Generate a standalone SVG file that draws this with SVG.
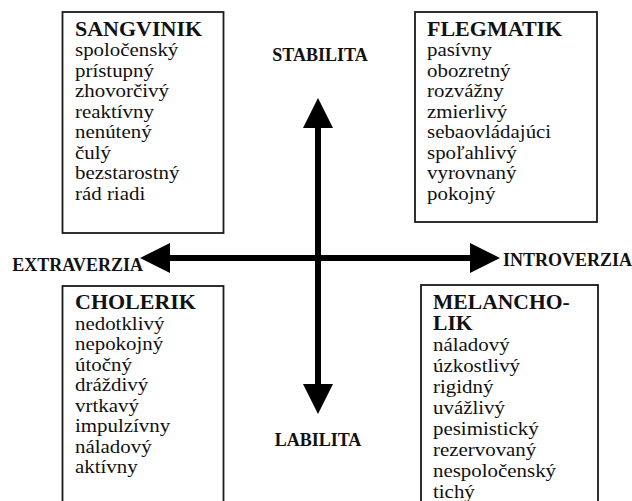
<svg xmlns="http://www.w3.org/2000/svg" width="632" height="501" viewBox="0 0 632 501">
<style>
.box{fill:#fff;stroke:#1a1a1a;stroke-width:1.8}
text{font-family:'Liberation Serif', 'Times New Roman', Times, serif}
.t{font-size:19px;fill:#111}
.b{font-weight:400}
.h{font-weight:bold;font-size:20px}
.ax{font-size:18px;font-weight:bold;fill:#111}
.line{stroke:#000;stroke-width:6}
</style>
<defs>
<marker id="ah" viewBox="0 0 10 10" refX="2" refY="5" markerWidth="5.2" markerHeight="5" orient="auto" markerUnits="strokeWidth">
<path d="M0,0 L10,5 L0,10 z" fill="#000"/>
</marker>
</defs>
<rect width="632" height="501" fill="#fff"/>
<g id="sangvinik">
<rect class="box" x="62.5" y="12" width="161" height="221"/>
<text class="t h" x="0" y="36" transform="translate(75,0) scale(1.1,1)">SANGVINIK</text>
<text class="t b" transform="translate(75,0) scale(1.1,1)">
<tspan x="0" y="56">spoločenský</tspan>
<tspan x="0" y="77">prístupný</tspan>
<tspan x="0" y="97">zhovorčivý</tspan>
<tspan x="0" y="118">reaktívny</tspan>
<tspan x="0" y="138">nenútený</tspan>
<tspan x="0" y="159">čulý</tspan>
<tspan x="0" y="179">bezstarostný</tspan>
<tspan x="0" y="200">rád riadi</tspan>
</text>
</g>
<g id="flegmatik">
<rect class="box" x="415" y="12" width="182" height="210"/>
<text class="t h" x="0" y="36" transform="translate(427,0) scale(1.1,1)">FLEGMATIK</text>
<text class="t b" transform="translate(427,0) scale(1.1,1)">
<tspan x="0" y="56">pasívny</tspan>
<tspan x="0" y="77">obozretný</tspan>
<tspan x="0" y="97">rozvážny</tspan>
<tspan x="0" y="118">zmierlivý</tspan>
<tspan x="0" y="138">sebaovládajúci</tspan>
<tspan x="0" y="159">spoľahlivý</tspan>
<tspan x="0" y="179">vyrovnaný</tspan>
<tspan x="0" y="200">pokojný</tspan>
</text>
</g>
<g id="cholerik">
<rect class="box" x="62.5" y="286" width="161" height="230"/>
<text class="t h" x="0" y="309" transform="translate(75,0) scale(1.1,1)">CHOLERIK</text>
<text class="t b" transform="translate(75,0) scale(1.1,1)">
<tspan x="0" y="330">nedotklivý</tspan>
<tspan x="0" y="350">nepokojný</tspan>
<tspan x="0" y="371">útočný</tspan>
<tspan x="0" y="391">dráždivý</tspan>
<tspan x="0" y="412">vrtkavý</tspan>
<tspan x="0" y="432">impulzívny</tspan>
<tspan x="0" y="453">náladový</tspan>
<tspan x="0" y="473">aktívny</tspan>
</text>
</g>
<g id="melancholik">
<rect class="box" x="421" y="285" width="177" height="230"/>
<text class="t h" transform="translate(433,0) scale(1.08,1)"><tspan x="0" y="309">MELANCHO-</tspan><tspan x="0" y="330">LIK</tspan></text>
<text class="t b" transform="translate(433,0) scale(1.1,1)">
<tspan x="0" y="351">náladový</tspan>
<tspan x="0" y="372">úzkostlivý</tspan>
<tspan x="0" y="393">rigidný</tspan>
<tspan x="0" y="414">uvážlivý</tspan>
<tspan x="0" y="435">pesimistický</tspan>
<tspan x="0" y="456">rezervovaný</tspan>
<tspan x="0" y="477">nespoločenský</tspan>
<tspan x="0" y="498">tichý</tspan>
</text>
</g>
<g id="connectors">
<line class="line" x1="318" y1="390" x2="318" y2="122" marker-end="url(#ah)"/>
<line class="line" x1="318" y1="130" x2="318" y2="390" marker-end="url(#ah)"/>
<line class="line" x1="474" y1="258" x2="164" y2="258" marker-end="url(#ah)"/>
<line class="line" x1="170" y1="258" x2="476" y2="258" marker-end="url(#ah)"/>
</g>
<g id="labels">
<text class="ax" x="320" y="61" text-anchor="middle">STABILITA</text>
<text class="ax" x="318" y="446" text-anchor="middle">LABILITA</text>
<text class="ax" x="143" y="271" text-anchor="end">EXTRAVERZIA</text>
<text class="ax" x="503" y="266">INTROVERZIA</text>
</g>
</svg>
